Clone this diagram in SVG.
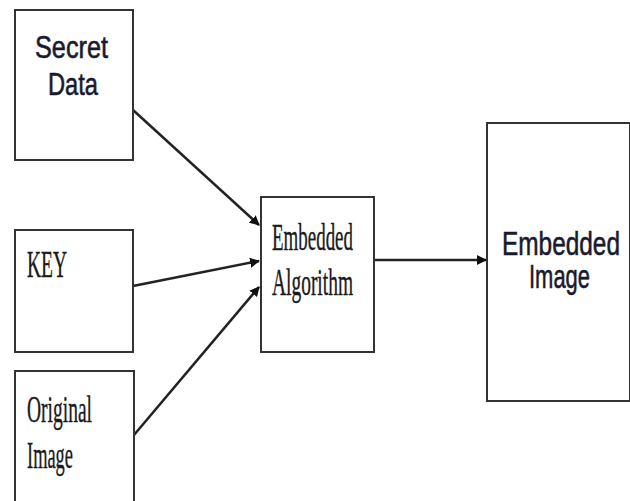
<svg xmlns="http://www.w3.org/2000/svg" width="630" height="501" viewBox="0 0 630 501">
  <style>
    .box { fill: #ffffff; stroke: #333333; stroke-width: 2; }
    .edge { stroke: #222222; stroke-width: 2.5; fill: none; }
    .sans { font-family: "Liberation Sans", Arial, sans-serif; fill: #1a1a2e; stroke: #1a1a2e; stroke-width: 0.6; }
    .serif { font-family: "Liberation Serif", "Times New Roman", serif; font-size: 38px; fill: #1a1a1a; stroke: #1a1a1a; stroke-width: 0.4; }
  </style>
  <defs>
    <marker id="arrow" markerWidth="10" markerHeight="10" refX="9" refY="5" orient="auto" markerUnits="userSpaceOnUse" viewBox="0 0 10 10">
      <path d="M0,0 L10,5 L0,10 z" fill="#111111"/>
    </marker>
  </defs>

  <g id="connectors">
    <line class="edge" x1="133" y1="110" x2="259" y2="225" marker-end="url(#arrow)"/>
    <line class="edge" x1="133" y1="286" x2="259" y2="261" marker-end="url(#arrow)"/>
    <line class="edge" x1="134" y1="435" x2="259" y2="287" marker-end="url(#arrow)"/>
    <line class="edge" x1="374" y1="260" x2="486" y2="260" marker-end="url(#arrow)"/>
  </g>

  <g id="secret-data">
    <rect class="box" x="15" y="10" width="118" height="150"/>
    <text class="sans" font-size="32" x="35" y="58" textLength="73" lengthAdjust="spacingAndGlyphs">Secret</text>
    <text class="sans" font-size="32" x="48" y="95" textLength="50" lengthAdjust="spacingAndGlyphs">Data</text>
  </g>

  <g id="key">
    <rect class="box" x="15" y="230" width="118" height="122"/>
    <text class="serif" x="27" y="277" textLength="40" lengthAdjust="spacingAndGlyphs">KEY</text>
  </g>

  <g id="original-image">
    <rect class="box" x="15" y="371" width="119" height="140"/>
    <text class="serif" x="27" y="422" textLength="65" lengthAdjust="spacingAndGlyphs">Original</text>
    <text class="serif" x="27" y="468" textLength="46" lengthAdjust="spacingAndGlyphs">Image</text>
  </g>

  <g id="embedded-algorithm">
    <rect class="box" x="261" y="197" width="113" height="155"/>
    <text class="serif" x="272" y="250" textLength="81" lengthAdjust="spacingAndGlyphs">Embedded</text>
    <text class="serif" x="272" y="295" textLength="81" lengthAdjust="spacingAndGlyphs">Algorithm</text>
  </g>

  <g id="embedded-image">
    <rect class="box" x="487" y="123" width="143" height="278"/>
    <text class="sans" font-size="34" x="502" y="255" textLength="118" lengthAdjust="spacingAndGlyphs">Embedded</text>
    <text class="sans" font-size="34" x="529" y="288" textLength="61" lengthAdjust="spacingAndGlyphs">Image</text>
  </g>
</svg>
